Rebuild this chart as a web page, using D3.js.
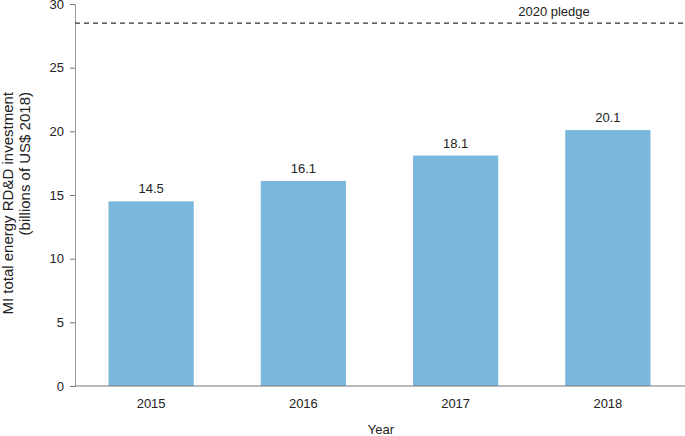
<!DOCTYPE html>
<html>
<head>
<meta charset="utf-8">
<script src="https://cdn.jsdelivr.net/npm/d3@7"></script>
<style>
  body { margin: 0; background: #fff; }
  text { font-family: "Liberation Sans", Arial, sans-serif; fill: #222; }
</style>
</head>
<body>
<script>
// data
const years = ["2015", "2016", "2017", "2018"];
const investment = [14.5, 16.1, 18.1, 20.1];
const pledge = 28.5;
const yTicks = [0, 5, 10, 15, 20, 25, 30];

const width = 685, height = 436;
const margin = { top: 4, right: 1, bottom: 50, left: 75 };

const svg = d3.select("body").append("svg")
  .attr("width", width)
  .attr("height", height);

const x = d3.scaleBand()
  .domain(years)
  .range([margin.left, width - margin.right])
  .paddingInner(0.44)
  .paddingOuter(0.22);

const y = d3.scaleLinear()
  .domain([0, 30])
  .range([height - margin.bottom, margin.top]);

// bars
svg.selectAll("rect.bar")
  .data(investment)
  .join("rect")
  .attr("class", "bar")
  .attr("x", (d, i) => x(years[i]))
  .attr("y", d => y(d))
  .attr("width", x.bandwidth())
  .attr("height", d => y(0) - y(d))
  .attr("fill", "#7ab7dc");

// value labels
svg.selectAll("text.val")
  .data(investment)
  .join("text")
  .attr("class", "val")
  .attr("x", (d, i) => x(years[i]) + x.bandwidth() / 2)
  .attr("y", d => y(d) - 8)
  .attr("text-anchor", "middle")
  .attr("font-size", 13)
  .text(d => d.toFixed(1));

// y axis
const yAxis = svg.append("g")
  .attr("transform", `translate(${margin.left},0)`)
  .call(d3.axisLeft(y).tickValues(yTicks).tickSize(5).tickPadding(6));
yAxis.select(".domain").attr("stroke", "#999");
yAxis.selectAll(".tick line").attr("stroke", "#777");
yAxis.selectAll(".tick text").attr("font-size", 13).attr("font-family", "Liberation Sans, Arial, sans-serif").attr("fill", "#222");

// x axis baseline
svg.append("line")
  .attr("x1", margin.left)
  .attr("x2", width)
  .attr("y1", y(0))
  .attr("y2", y(0))
  .attr("stroke", "#777");

// year labels
svg.selectAll("text.year")
  .data(years)
  .join("text")
  .attr("class", "year")
  .attr("x", d => x(d) + x.bandwidth() / 2)
  .attr("y", y(0) + 22)
  .attr("text-anchor", "middle")
  .attr("font-size", 13)
  .text(d => d);

// pledge line
svg.append("line")
  .attr("x1", margin.left)
  .attr("x2", width)
  .attr("y1", y(pledge))
  .attr("y2", y(pledge))
  .attr("stroke", "#333")
  .attr("stroke-width", 1.2)
  .attr("stroke-dasharray", "5,4");

svg.append("text")
  .attr("x", 554)
  .attr("y", y(pledge) - 7)
  .attr("text-anchor", "middle")
  .attr("font-size", 13)
  .text("2020 pledge");

// axis titles
svg.append("text")
  .attr("x", 381)
  .attr("y", 434)
  .attr("text-anchor", "middle")
  .attr("font-size", 13)
  .text("Year");

const yt = svg.append("text")
  .attr("transform", "translate(13,92) rotate(-90)")
  .attr("text-anchor", "end")
  .attr("font-size", 15);
yt.append("tspan").attr("x", 0).attr("dy", 0).text("MI total energy RD&D investment");
yt.append("tspan").attr("x", 0).attr("dy", 17).text("(billions of US$ 2018)");
</script>
</body>
</html>
